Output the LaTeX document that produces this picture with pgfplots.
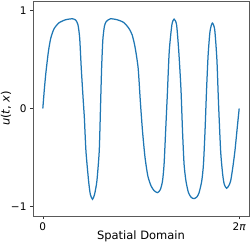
\documentclass[border=0pt]{standalone}
\usepackage{pgfplots}
\pgfplotsset{compat=1.18}
\usepackage{fontspec}
\setmainfont{DejaVu Sans}
\definecolor{mplblue}{HTML}{1F77B4}
\begin{document}
\begin{tikzpicture}
\begin{axis}[
 at={(0,0)}, anchor=south west,
 scale only axis, width=216pt, height=215pt,
 xmin=-0.314, xmax=6.597, ymin=-1.1, ymax=1.1,
 xtick={0,6.2832}, xticklabels={0, 2\textit{π}},
 ytick={-1,0,1}, yticklabels={−1,0,1},
 tick align=outside, tick pos=left, major tick length=3pt,
 tick style={black!80, line width=0.6pt},
 axis line style={black!65, line width=0.7pt},
 ticklabel style={font=\fontsize{10.5}{12}\selectfont},
 xlabel={Spatial Domain}, ylabel={\textit{u}(\textit{t}, \textit{x})},
 label style={font=\fontsize{11.5}{13}\selectfont},
 xlabel style={at={([yshift=-20.7pt]axis description cs:0.5,0)}, anchor=center},
 ylabel style={at={([xshift=-27pt]axis description cs:0,0.5)}, anchor=center},
]
\addplot[mplblue, line width=1.25pt, smooth, tension=0.4] coordinates {
(0.00,0.00) (0.05,0.20) (0.10,0.37) (0.18,0.585) (0.255,0.72) (0.36,0.816)
(0.52,0.877) (0.73,0.908) (0.945,0.918) (1.05,0.905) (1.125,0.857) (1.18,0.72)
(1.23,0.414) (1.29,0.1) (1.33,-0.1) (1.38,-0.436) (1.465,-0.742) (1.52,-0.878)
(1.59,-0.929) (1.656,-0.878) (1.73,-0.742) (1.805,-0.436) (1.845,0.0) (1.88,0.4)
(1.92,0.7) (1.97,0.84) (2.03,0.89) (2.165,0.918) (2.38,0.908) (2.59,0.88)
(2.75,0.822) (2.857,0.755) (2.95,0.63) (3.05,0.414) (3.12,0.074) (3.19,-0.231)
(3.27,-0.5) (3.36,-0.69) (3.46,-0.79) (3.56,-0.84) (3.67,-0.861) (3.76,-0.83) (3.83,-0.742)
(3.88,-0.571) (3.93,-0.231) (3.985,0.15) (4.045,0.585) (4.13,0.857) (4.20,0.914)
(4.28,0.857) (4.35,0.585) (4.42,0.2) (4.47,-0.231) (4.52,-0.571) (4.58,-0.742)
(4.66,-0.861) (4.75,-0.91) (4.84,-0.922) (4.93,-0.905) (5.0,-0.861) (5.085,-0.742)
(5.14,-0.571) (5.19,-0.231) (5.24,0.2) (5.29,0.55) (5.35,0.79) (5.424,0.874)
(5.50,0.806) (5.57,0.5) (5.62,0.07) (5.69,-0.436) (5.755,-0.674) (5.806,-0.776)
(5.88,-0.816) (5.95,-0.79) (6.01,-0.742) (6.08,-0.6) (6.146,-0.436) (6.22,-0.2)
(6.283,0.0)
};
\end{axis}
\pgfresetboundingbox
\useasboundingbox (-33pt,-27pt) rectangle (217pt,216pt);
\end{tikzpicture}
\end{document}
